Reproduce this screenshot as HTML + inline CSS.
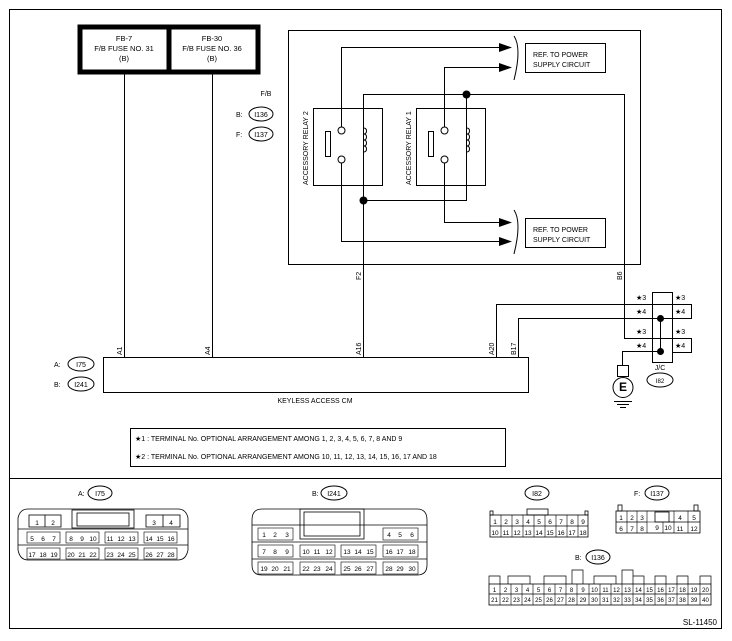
<!DOCTYPE html>
<html><head><meta charset="utf-8"><style>
html,body{margin:0;padding:0;background:#fff}
svg{display:block}
text{font-family:"Liberation Sans",Arial,sans-serif;fill:#000}
</style></head><body>
<svg width="732" height="641" viewBox="0 0 732 641" xmlns="http://www.w3.org/2000/svg">
<g fill="none" stroke="#000" stroke-width="1">
<rect x="9.5" y="9.5" width="712" height="619"/>
<line x1="9.5" y1="478.5" x2="721.5" y2="478.5"/>
</g>
<rect x="80" y="27" width="178" height="45" fill="none" stroke="#000" stroke-width="5"/>
<line x1="169" y1="27" x2="169" y2="72" stroke="#000" stroke-width="5"/>
<g font-size="7.5" text-anchor="middle">
<text x="124" y="41">FB-7</text><text x="124" y="51">F/B FUSE NO. 31</text><text x="124" y="61">(B)</text>
<text x="212" y="41">FB-30</text><text x="212" y="51">F/B FUSE NO. 36</text><text x="212" y="61">(B)</text>
</g>
<g fill="none" stroke="#000" stroke-width="1">
<line x1="124.5" y1="74" x2="124.5" y2="357"/>
<line x1="212.5" y1="74" x2="212.5" y2="357"/>
<rect x="288.5" y="30.5" width="352" height="234"/>
<rect x="313.5" y="108.5" width="69" height="77"/>
<rect x="416.5" y="108.5" width="69" height="77"/>
<rect x="325.5" y="131.5" width="5" height="25"/>
<rect x="428.5" y="131.5" width="5" height="25"/>
<circle cx="341.5" cy="130.5" r="3.5"/><circle cx="341.5" cy="159.5" r="3.5"/>
<circle cx="444.5" cy="130.5" r="3.5"/><circle cx="444.5" cy="159.5" r="3.5"/>
<polyline points="341.5,127 341.5,47.5 505,47.5"/>
<polyline points="341.5,163 341.5,241.5 505,241.5"/>
<polyline points="444.5,127 444.5,67.5 505,67.5"/>
<polyline points="444.5,163 444.5,222.5 505,222.5"/>
<polyline points="363.5,357 363.5,94.5 624.5,94.5 624.5,338.5 652,338.5"/>
<polyline points="363.5,200.5 466.5,200.5 466.5,94.5"/>
<path d="M363.5,128 q3,0 3,3 q0,3 -3,3 q3,0 3,3 q0,3 -3,3 q3,0 3,3 q0,3 -3,3 q3,0 3,3 q0,3 -3,3" />
<path d="M466.5,128 q3,0 3,3 q0,3 -3,3 q3,0 3,3 q0,3 -3,3 q3,0 3,3 q0,3 -3,3 q3,0 3,3 q0,3 -3,3" />
<path d="M514,36 q8,12 0,44"/><path d="M514,210 q8,12 0,44"/>
<rect x="525.5" y="43.5" width="80" height="29"/>
<rect x="525.5" y="218.5" width="80" height="29"/>
<rect x="103.5" y="357.5" width="425" height="35"/>
<polyline points="496.5,357 496.5,304.5 691.5,304.5 691.5,318.5 660.5,318.5"/>
<polyline points="518.5,357 518.5,318.5 660.5,318.5"/>
<rect x="652.5" y="292.5" width="20" height="70"/>
<polyline points="652,338.5 691.5,338.5 691.5,352.5 672,352.5"/>
<line x1="660.5" y1="318.5" x2="660.5" y2="351.5"/>
<polyline points="660.5,351.5 622.5,351.5 622.5,365"/>
<rect x="617.5" y="365.5" width="11" height="11"/>
<circle cx="623" cy="387.5" r="10"/>
<line x1="614" y1="401.5" x2="632" y2="401.5"/>
<line x1="617" y1="404.5" x2="629" y2="404.5"/>
<line x1="620" y1="407.5" x2="626" y2="407.5"/>
<rect x="130.5" y="428.5" width="375" height="38"/>
<ellipse cx="261" cy="114" rx="12" ry="7"/>
<ellipse cx="261" cy="134" rx="12" ry="7"/>
<ellipse cx="81" cy="364" rx="13" ry="7"/>
<ellipse cx="81" cy="384" rx="13" ry="7"/>
<ellipse cx="660" cy="380" rx="13" ry="7"/>
<ellipse cx="100" cy="493" rx="12" ry="7"/>
<ellipse cx="334" cy="493" rx="13" ry="7"/>
<ellipse cx="537" cy="493" rx="12" ry="7"/>
<ellipse cx="657" cy="493" rx="12" ry="7"/>
<ellipse cx="598" cy="557" rx="12" ry="7"/>
</g>
<g fill="#000">
<polygon points="512,47.5 499,43 499,52"/><polygon points="512,67.5 499,63 499,72"/>
<polygon points="512,222.5 499,218 499,227"/><polygon points="512,241.5 499,237 499,246"/>
<circle cx="466.5" cy="94.5" r="4"/><circle cx="363.5" cy="200.5" r="4"/>
<circle cx="660.5" cy="318.5" r="3.5"/><circle cx="660.5" cy="351.5" r="3.5"/>
</g>
<g font-size="7">
<text x="266" y="96" text-anchor="middle">F/B</text>
<text x="236" y="117">B:</text><text x="236" y="137">F:</text>
<text x="261" y="117" text-anchor="middle">I136</text><text x="261" y="137" text-anchor="middle">I137</text>
<text x="54" y="367">A:</text><text x="54" y="387">B:</text>
<text x="81" y="367" text-anchor="middle">I75</text><text x="81" y="387" text-anchor="middle">I241</text>
<text x="533" y="57">REF. TO POWER</text><text x="533" y="67">SUPPLY CIRCUIT</text>
<text x="533" y="232">REF. TO POWER</text><text x="533" y="242">SUPPLY CIRCUIT</text>
<text x="315" y="403" text-anchor="middle">KEYLESS ACCESS CM</text>
<text x="660" y="370" text-anchor="middle">J/C</text><text x="660" y="383" text-anchor="middle" font-size="6">I82</text>
<text x="636" y="300">★3</text><text x="636" y="314">★4</text><text x="636" y="334">★3</text><text x="636" y="348">★4</text>
<text x="675" y="300">★3</text><text x="675" y="314">★4</text><text x="675" y="334">★3</text><text x="675" y="348">★4</text>
<text x="135" y="441">★1  : TERMINAL No. OPTIONAL ARRANGEMENT AMONG 1, 2, 3, 4, 5, 6, 7, 8 AND 9</text>
<text x="135" y="459">★2  : TERMINAL No. OPTIONAL ARRANGEMENT AMONG 10, 11, 12, 13, 14, 15, 16, 17 AND 18</text>
<text x="717" y="625" text-anchor="end" font-size="8">SL-11450</text>
<text x="78" y="496">A:</text><text x="100" y="496" text-anchor="middle">I75</text>
<text x="312" y="496">B:</text><text x="334" y="496" text-anchor="middle">I241</text>
<text x="537" y="496" text-anchor="middle">I82</text>
<text x="634" y="496">F:</text><text x="657" y="496" text-anchor="middle">I137</text>
<text x="575" y="560">B:</text><text x="598" y="560" text-anchor="middle">I136</text>
</g>
<g font-size="7" transform="rotate(-90)">
<text x="-185" y="308">ACCESSORY RELAY 2</text>
<text x="-185" y="411">ACCESSORY RELAY 1</text>
<text x="-355" y="122">A1</text><text x="-355" y="210">A4</text>
<text x="-355" y="361">A16</text><text x="-355" y="494">A20</text><text x="-355" y="516">B17</text>
<text x="-280" y="361">F2</text><text x="-280" y="622">B6</text>
</g>
<g fill="none" stroke="#000" stroke-width="0.8">
<path d="M28,509 H178 Q186,509 188,518 V550 Q186,560 178,560 H28 Q20,560 18,550 V518 Q20,509 28,509Z"/>
<line x1="18" y1="529" x2="188" y2="529"/><line x1="18" y1="545" x2="188" y2="545"/>
<rect x="72" y="510" width="62" height="18"/><rect x="77" y="513" width="52" height="13"/>
<rect x="29" y="515" width="32" height="12"/><line x1="45" y1="515" x2="45" y2="527"/>
<rect x="146" y="515" width="34" height="12"/><line x1="163" y1="515" x2="163" y2="527"/>
<path d="M262,509 H417 Q427,509 427,520 V565 Q427,575 417,575 H262 Q252,575 252,565 V520 Q252,509 262,509Z"/>
<line x1="252" y1="525" x2="427" y2="525"/><line x1="252" y1="542" x2="427" y2="542"/><line x1="252" y1="559" x2="427" y2="559"/>
<rect x="300" y="509" width="64" height="30"/><rect x="304" y="512" width="56" height="24"/>
<rect x="490" y="515" width="98" height="22"/><line x1="490" y1="526" x2="588" y2="526"/>
<rect x="527" y="509" width="21" height="6"/><rect x="490" y="511" width="3" height="4"/><rect x="585" y="511" width="3" height="4"/>
<rect x="616" y="511" width="84" height="22"/><line x1="616" y1="522" x2="647" y2="522"/><line x1="669" y1="522" x2="700" y2="522"/>
<rect x="618" y="505" width="4" height="6"/><rect x="694" y="505" width="4" height="6"/>
<rect x="655" y="512" width="14" height="10"/>
<rect x="489" y="584" width="222" height="21"/><line x1="489" y1="594" x2="711" y2="594"/>
</g>
<g stroke="#000" stroke-width="0.7" fill="none">
<path d="M489,584 v-8 h11 v8 M508,584 v-8 h22 v8 M544,584 v-8 h22 v8 M572,584 v-14 h11 v14 M594,584 v-8 h22 v8 M622,584 v-14 h11 v14 M633,584 v-8 h11 v8 M655,584 v-8 h11 v8 M677,584 v-8 h11 v8 M700,584 v-8 h11 v8"/>
</g>
<g font-size="6.5" text-anchor="middle">
<text x="37" y="525">1</text><text x="53" y="525">2</text><text x="154" y="525">3</text><text x="171" y="525">4</text>
<g stroke="#000" stroke-width="0.6" fill="none">
<rect x="27" y="532" width="33" height="11"/><rect x="66" y="532" width="33" height="11"/><rect x="105" y="532" width="33" height="11"/><rect x="144" y="532" width="33" height="11"/>
<rect x="27" y="548" width="33" height="11"/><rect x="66" y="548" width="33" height="11"/><rect x="105" y="548" width="33" height="11"/><rect x="144" y="548" width="33" height="11"/>
<rect x="258" y="528" width="35" height="12"/><rect x="383" y="528" width="35" height="12"/>
<rect x="258" y="545" width="35" height="12"/><rect x="300" y="545" width="35" height="12"/><rect x="341" y="545" width="35" height="12"/><rect x="383" y="545" width="35" height="12"/>
<rect x="258" y="562" width="35" height="12"/><rect x="300" y="562" width="35" height="12"/><rect x="341" y="562" width="35" height="12"/><rect x="383" y="562" width="35" height="12"/>
</g>
<text x="32" y="541">5</text><text x="43" y="541">6</text><text x="54" y="541">7</text>
<text x="71" y="541">8</text><text x="82" y="541">9</text><text x="93" y="541">10</text>
<text x="110" y="541">11</text><text x="121" y="541">12</text><text x="132" y="541">13</text>
<text x="149" y="541">14</text><text x="160" y="541">15</text><text x="171" y="541">16</text>
<text x="32" y="557">17</text><text x="43" y="557">18</text><text x="54" y="557">19</text>
<text x="71" y="557">20</text><text x="82" y="557">21</text><text x="93" y="557">22</text>
<text x="110" y="557">23</text><text x="121" y="557">24</text><text x="132" y="557">25</text>
<text x="149" y="557">26</text><text x="160" y="557">27</text><text x="171" y="557">28</text>
<text x="264" y="537">1</text><text x="275" y="537">2</text><text x="287" y="537">3</text>
<text x="389" y="537">4</text><text x="400" y="537">5</text><text x="412" y="537">6</text>
<text x="264" y="554">7</text><text x="275" y="554">8</text><text x="287" y="554">9</text>
<text x="306" y="554">10</text><text x="317" y="554">11</text><text x="329" y="554">12</text>
<text x="347" y="554">13</text><text x="358" y="554">14</text><text x="370" y="554">15</text>
<text x="389" y="554">16</text><text x="400" y="554">17</text><text x="412" y="554">18</text>
<text x="264" y="571">19</text><text x="275" y="571">20</text><text x="287" y="571">21</text>
<text x="306" y="571">22</text><text x="317" y="571">23</text><text x="329" y="571">24</text>
<text x="347" y="571">25</text><text x="358" y="571">26</text><text x="370" y="571">27</text>
<text x="389" y="571">28</text><text x="400" y="571">29</text><text x="412" y="571">30</text>
</g>
<g font-size="6.5" text-anchor="middle">
<text x="495" y="524">1</text><text x="506" y="524">2</text><text x="517" y="524">3</text><text x="528" y="524">4</text><text x="539" y="524">5</text><text x="550" y="524">6</text><text x="561" y="524">7</text><text x="572" y="524">8</text><text x="583" y="524">9</text>
<text x="495" y="535">10</text><text x="506" y="535">11</text><text x="517" y="535">12</text><text x="528" y="535">13</text><text x="539" y="535">14</text><text x="550" y="535">15</text><text x="561" y="535">16</text><text x="572" y="535">17</text><text x="583" y="535">18</text>
<text x="621" y="520">1</text><text x="632" y="520">2</text><text x="642" y="520">3</text><text x="680" y="520">4</text><text x="694" y="520">5</text>
<text x="621" y="531">6</text><text x="632" y="531">7</text><text x="642" y="531">8</text><text x="657" y="530">9</text><text x="668" y="530">10</text><text x="680" y="531">11</text><text x="694" y="531">12</text>
</g>
<g stroke="#000" stroke-width="0.6">
<path d="M501,515v22M512,515v22M523,515v22M534,515v22M545,515v22M556,515v22M567,515v22M578,515v22"/>
<path d="M627,511v22M637,511v22M647,511v22M663,522v11M674,511v22M688,511v22M647,522h27"/>
<path d="M500,584v21M511,584v21M522,584v21M533,584v21M544,584v21M555,584v21M566,584v21M577,584v21M589,584v21M600,584v21M611,584v21M622,584v21M633,584v21M644,584v21M655,584v21M666,584v21M677,584v21M688,584v21M700,584v21"/>
</g>
<g font-size="6" text-anchor="middle">
<text x="494.5" y="592">1</text><text x="505.5" y="592">2</text><text x="516.5" y="592">3</text><text x="527.5" y="592">4</text><text x="538.5" y="592">5</text><text x="549.5" y="592">6</text><text x="560.5" y="592">7</text><text x="571.5" y="592">8</text><text x="583" y="592">9</text><text x="594.5" y="592">10</text><text x="605.5" y="592">11</text><text x="616.5" y="592">12</text><text x="627.5" y="592">13</text><text x="638.5" y="592">14</text><text x="649.5" y="592">15</text><text x="660.5" y="592">16</text><text x="671.5" y="592">17</text><text x="682.5" y="592">18</text><text x="694" y="592">19</text><text x="705.5" y="592">20</text>
<text x="494.5" y="602">21</text><text x="505.5" y="602">22</text><text x="516.5" y="602">23</text><text x="527.5" y="602">24</text><text x="538.5" y="602">25</text><text x="549.5" y="602">26</text><text x="560.5" y="602">27</text><text x="571.5" y="602">28</text><text x="583" y="602">29</text><text x="594.5" y="602">30</text><text x="605.5" y="602">31</text><text x="616.5" y="602">32</text><text x="627.5" y="602">33</text><text x="638.5" y="602">34</text><text x="649.5" y="602">35</text><text x="660.5" y="602">36</text><text x="671.5" y="602">37</text><text x="682.5" y="602">38</text><text x="694" y="602">39</text><text x="705.5" y="602">40</text>
</g>
<text x="623" y="391" font-size="12" font-weight="bold" text-anchor="middle">E</text>
</svg>
</body></html>
